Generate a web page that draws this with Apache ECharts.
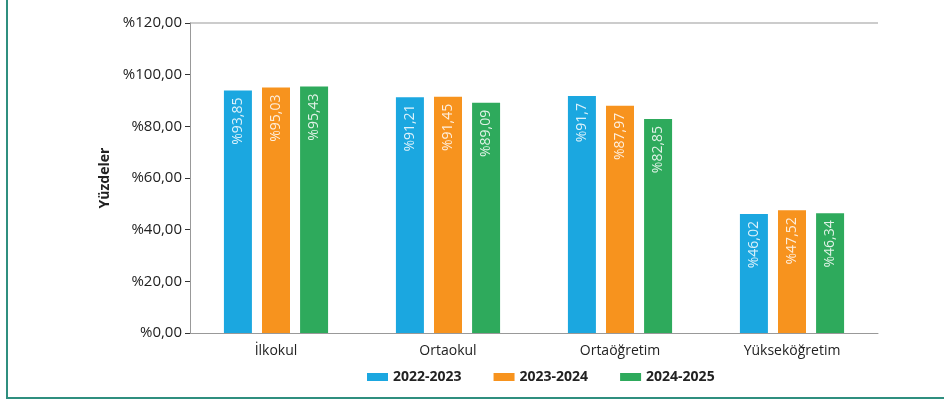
<!DOCTYPE html>
<html>
<head>
<meta charset="utf-8">
<script src="https://cdn.jsdelivr.net/npm/echarts@6/dist/echarts.min.js"></script>
<style>
  html, body { margin: 0; padding: 0; background: #fff; }
  #frame { position: absolute; left: 6px; top: 0; width: 938px; height: 399px; border-left: 2px solid #2f8f7f; border-bottom: 2px solid #2f8f7f; box-sizing: border-box; }
  #chart { position: absolute; left: 0; top: 0; width: 944px; height: 403px; }
</style>
</head>
<body>
<div id="frame"></div>
<div id="chart"></div>
<script>
// kademeler ve yillar
const categories = ['İlkokul', 'Ortaokul', 'Ortaöğretim', 'Yükseköğretim']
const years = ['2022-2023', '2023-2024', '2024-2025']
const values2022 = [93.85, 91.21, 91.7, 46.02]
const values2023 = [95.03, 91.45, 87.97, 47.52]
const values2024 = [95.43, 89.09, 82.85, 46.34]
const colors = ['#1ba7e0', '#f7931e', '#2eaa5c']

const font = '"Open Sans", Lato, sans-serif'

function makeSeries(name, data, color) {
  return {
    name: name,
    type: 'bar',
    data: data,
    barWidth: 28,
    barGap: '36%',
    itemStyle: { color: color },
    label: {
      show: true,
      position: 'insideTop',
      rotate: 90,
      align: 'right',
      verticalAlign: 'middle',
      distance: 7,
      color: 'rgba(255,255,255,0.85)',
      fontFamily: font,
      fontSize: 14,
      formatter: (p) => '%' + String(p.value).replace('.', ',')
    }
  }
}

var myChart = echarts.init(document.getElementById('chart'))
var option = {
  animation: false,
  grid: { left: 190, right: 66, top: 23, bottom: 70 },
  legend: {
    data: years,
    bottom: 14,
    left: 362,
    itemWidth: 21,
    itemHeight: 8,
    itemGap: 32,
    icon: 'rect',
    textStyle: { fontFamily: font, fontSize: 14, fontWeight: 'bold', color: '#222' }
  },
  xAxis: {
    type: 'category',
    data: categories,
    axisLine: { lineStyle: { color: '#999' } },
    axisTick: { alignWithLabel: true, length: 4, lineStyle: { color: '#333' } },
    axisLabel: { fontFamily: font, fontSize: 14, color: '#222', margin: 11 }
  },
  yAxis: {
    type: 'value',
    min: 0,
    max: 120,
    interval: 20,
    name: 'Yüzdeler',
    nameLocation: 'middle',
    nameGap: 78,
    nameTextStyle: { fontFamily: font, fontSize: 14, fontWeight: 'bold', color: '#222' },
    axisLine: { show: true, lineStyle: { color: '#999' } },
    axisTick: { show: true, length: 5, lineStyle: { color: '#333' } },
    axisLabel: {
      fontFamily: font, fontSize: 15, color: '#222', margin: 8,
      formatter: (v) => '%' + v + ',00'
    },
    splitLine: {
      show: true,
      lineStyle: { color: ['rgba(0,0,0,0)', 'rgba(0,0,0,0)', 'rgba(0,0,0,0)', 'rgba(0,0,0,0)', 'rgba(0,0,0,0)', 'rgba(0,0,0,0)', '#bbb'], width: 1.5 }
    }
  },
  series: [
    makeSeries(years[0], values2022, colors[0]),
    makeSeries(years[1], values2023, colors[1]),
    makeSeries(years[2], values2024, colors[2])
  ]
}
option && myChart.setOption(option)
</script>
</body>
</html>
